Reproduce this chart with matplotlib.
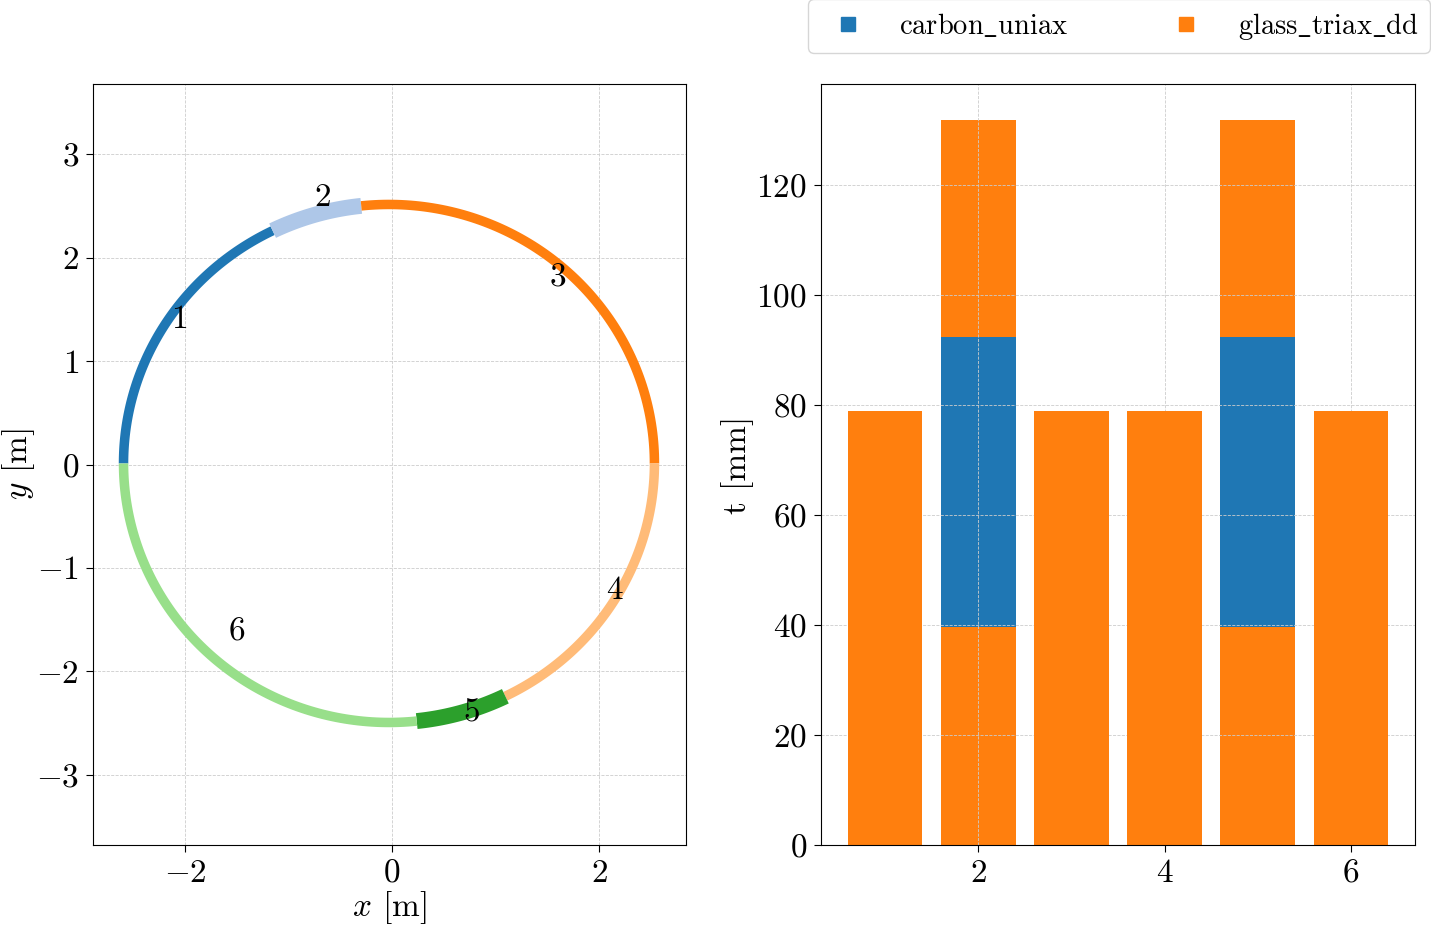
import numpy as np
import matplotlib
matplotlib.use("Agg")
import matplotlib.pyplot as plt
from matplotlib.lines import Line2D

plt.rcParams["font.family"] = "serif"
plt.rcParams["font.serif"] = ["cmr10"]
plt.rcParams["mathtext.fontset"] = "cm"
plt.rcParams["axes.formatter.use_mathtext"] = True
plt.rcParams["font.size"] = 24

# cross-section segments (angles in degrees, going clockwise)
seg_ids = [1, 2, 3, 4, 5, 6]
seg_start = [180, 116, 96, 0, -64, -84]
seg_end = [116, 96, 0, -64, -84, -180]
seg_colors = plt.cm.tab20(np.arange(6))

# shape of the section
center = (-0.03, 0.01)
semi_x = 2.565
semi_y = 2.505

# layup per segment [mm]
positions = [1, 2, 3, 4, 5, 6]
glass_bottom = [78.9, 39.7, 78.9, 78.9, 39.7, 78.9]
carbon = [0, 52.7, 0, 0, 52.7, 0]
glass_top = [0, 39.3, 0, 0, 39.3, 0]
materials = ["carbon_uniax", "glass_triax_dd"]
mat_colors = {"carbon_uniax": "#1f77b4", "glass_triax_dd": "#ff7f0e"}

total = np.array(glass_bottom) + np.array(carbon) + np.array(glass_top)

fig = plt.figure(figsize=(14.31, 9.25), dpi=100)
ax1 = fig.add_axes([93 / 1431, 80 / 925, 593 / 1431, 761 / 925])
ax2 = fig.add_axes([821 / 1431, 80 / 925, 594 / 1431, 761 / 925])

for i, sid in enumerate(seg_ids):
    th = np.radians(np.linspace(seg_start[i], seg_end[i], 100))
    xs = center[0] + semi_x * np.cos(th)
    ys = center[1] + semi_y * np.sin(th)
    ax1.plot(xs, ys, color=seg_colors[i], lw=total[i] / 11.5,
             solid_capstyle="butt")
    # label sits at the mean point of the segment, pushed a little outward
    ax1.text(xs.mean() * 1.02, ys.mean() * 1.04, str(sid))

ax1.set_xlim(-2.89, 2.84)
ax1.set_ylim(-3.68, 3.68)
ax1.set_aspect("equal", adjustable="datalim")
ax1.set_xticks([-2, 0, 2])
ax1.set_yticks([-3, -2, -1, 0, 1, 2, 3])
ax1.set_xlabel(r"$x$ [m]", labelpad=1)
ax1.set_ylabel(r"$y$ [m]", labelpad=-1)

# bars with one layer sit above the grid, stacked ones below it
single = np.array(carbon) == 0
for k in range(len(positions)):
    z = 2 if single[k] else 1
    ax2.bar(positions[k], glass_bottom[k], color=mat_colors["glass_triax_dd"], zorder=z)
    ax2.bar(positions[k], carbon[k], bottom=glass_bottom[k],
            color=mat_colors["carbon_uniax"], zorder=z)
    ax2.bar(positions[k], glass_top[k], bottom=glass_bottom[k] + carbon[k],
            color=mat_colors["glass_triax_dd"], zorder=z)
ax2.set_xticks([2, 4, 6])
ax2.set_ylabel("t [mm]", labelpad=2)

for ax in (ax1, ax2):
    ax.grid(True, ls="--", lw=0.6, color="#cccccc")
    ax.tick_params(length=5, pad=5)

handles = [Line2D([], [], ls="", marker="s", ms=10, color=mat_colors[m]) for m in materials]
labels = [m.replace("_", r"$\_$") for m in materials]
fig.legend(handles, labels, ncol=2, mode="expand", fontsize=20.5,
           loc="lower left", bbox_to_anchor=(808 / 1431, 1 - 53 / 925, 622 / 1431, 50 / 925),
           borderaxespad=0, frameon=True)

fig.savefig("out.png", dpi=100)
